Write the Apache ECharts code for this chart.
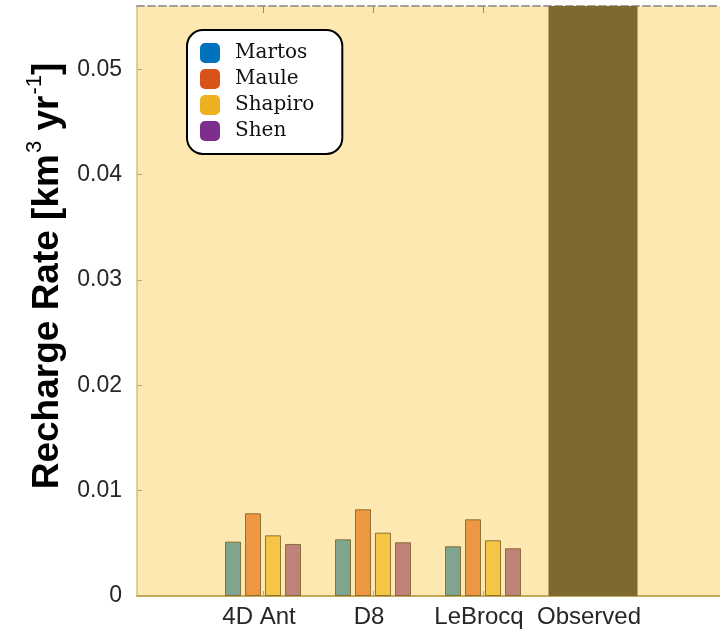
<!DOCTYPE html>
<html>
<head>
<meta charset="utf-8">
<script src="https://cdn.jsdelivr.net/npm/echarts@6.0.0/dist/echarts.min.js"></script>
<style>
  html, body { margin: 0; padding: 0; background: #fff; }
  #chart { width: 720px; height: 632px; }
</style>
</head>
<body>
<div id="chart"></div>
<script>
(function() {
  // ── Data ──
  var categories = ['4D Ant', 'D8', 'LeBrocq', 'Observed'];
  var models = ['Martos', 'Maule', 'Shapiro', 'Shen'];
  var martos = [0.00516, 0.00538, 0.00472];
  var maule = [0.00785, 0.00823, 0.00728];
  var shapiro = [0.00576, 0.00601, 0.00529];
  var shen = [0.00494, 0.00510, 0.00453];
  var observed = [0.056];
  var yTicks = [0, 0.01, 0.02, 0.03, 0.04, 0.05];
  var yMax = 0.056;

  // ── Styles ──
  var barColors = ['#7fa58e', '#ed9742', '#f5c545', '#be827a'];
  var legendColors = ['#0072bd', '#d95319', '#edb120', '#7e2f8e'];
  var obsColor = '#7d6a33';
  var plotBg = '#fee8b1';
  var axisColor = '#c4a95a';
  var ink = '#262626';
  var sans = '"Liberation Sans", Arial, sans-serif';
  var serif = '"DejaVu Serif", serif';

  var xMin = -0.1455, xMax = 5.1545;
  var catPos = categories.map(function(c, i) { return i + 1; });

  function pairs(vals) {
    return vals.map(function(v, i) { return [i + 1, v]; });
  }

  var modelData = [martos, maule, shapiro, shen];
  var series = models.map(function(name, k) {
    return {
      name: name,
      type: 'bar',
      xAxisIndex: 0,
      barWidth: 16,
      barGap: '25%',
      data: pairs(modelData[k]),
      itemStyle: { color: barColors[k], borderColor: 'rgba(125,100,40,0.85)', borderWidth: 1 },
      z: 3
    };
  });
  series.push({
    name: 'Observed',
    type: 'bar',
    xAxisIndex: 1,
    barWidth: 89,
    data: [[categories.length, observed[0]]],
    itemStyle: { color: obsColor },
    z: 2
  });

  var chart = echarts.init(document.getElementById('chart'), null, { renderer: 'canvas' });
  chart.setOption({
    animation: false,
    backgroundColor: '#ffffff',
    grid: { left: 137, right: 0, top: 6, bottom: 36, show: true, backgroundColor: plotBg, borderWidth: 0 },
    legend: {
      data: models.map(function(m, i) { return { name: m, itemStyle: { color: legendColors[i], borderWidth: 0 } }; }),
      orient: 'vertical',
      left: 187,
      top: 30,
      icon: 'roundRect',
      itemWidth: 20,
      itemHeight: 20,
      itemGap: 6,
      itemStyle: { borderWidth: 0 },
      padding: [13, 28, 13, 13],
      backgroundColor: '#ffffff',
      borderColor: '#000000',
      borderWidth: 2,
      borderRadius: 16,
      textStyle: { color: '#111', fontFamily: serif, fontSize: 20, lineHeight: 20, padding: [0, 0, 0, 10] }
    },
    xAxis: [
      {
        type: 'value', position: 'bottom', min: xMin, max: xMax,
        axisLine: { show: true, onZero: false, lineStyle: { color: axisColor, width: 2 } },
        axisTick: { show: true, inside: true, length: 5, customValues: catPos, lineStyle: { color: axisColor } },
        axisLabel: {
          show: true, customValues: catPos, color: ink, fontFamily: sans, fontSize: 24, margin: 9,
          padding: [0, 8, 0, 0],
          formatter: function(v) { return categories[Math.round(v) - 1] || ''; }
        },
        splitLine: { show: false }
      },
      {
        type: 'value', position: 'top', min: xMin, max: xMax,
        axisLine: { show: true, onZero: false, lineStyle: { color: '#a3a09a', width: 2, type: [7, 4] } },
        axisTick: { show: true, inside: true, length: 7, customValues: catPos, lineStyle: { color: '#a08c4c' } },
        axisLabel: { show: false },
        splitLine: { show: false }
      }
    ],
    yAxis: {
      type: 'value', min: 0, max: yMax,
      name: '{b|Recharge Rate [km}{s|3}{b| yr}{s|-1}{b|]}',
      nameLocation: 'middle',
      nameGap: 70,
      nameTextStyle: {
        padding: [0, 0, 0, 50],
        rich: {
          b: { fontFamily: sans, fontWeight: 'bold', fontSize: 37, color: '#000', lineHeight: 42, verticalAlign: 'bottom' },
          s: { fontFamily: sans, fontWeight: 'normal', fontSize: 22, color: '#000', lineHeight: 38, verticalAlign: 'top', padding: [0, 0, 0, 1] }
        }
      },
      axisLine: { show: true, onZero: false, lineStyle: { color: '#d6c17e', width: 1.5 } },
      axisTick: { show: true, inside: true, length: 5, customValues: yTicks, lineStyle: { color: axisColor } },
      axisLabel: {
        customValues: yTicks, color: ink, fontFamily: sans, fontSize: 23, margin: 15,
        formatter: function(v) { return v === 0 ? '0' : String(+v.toFixed(2)); }
      },
      splitLine: { show: false }
    },
    series: series
  });
})();
</script>
</body>
</html>
